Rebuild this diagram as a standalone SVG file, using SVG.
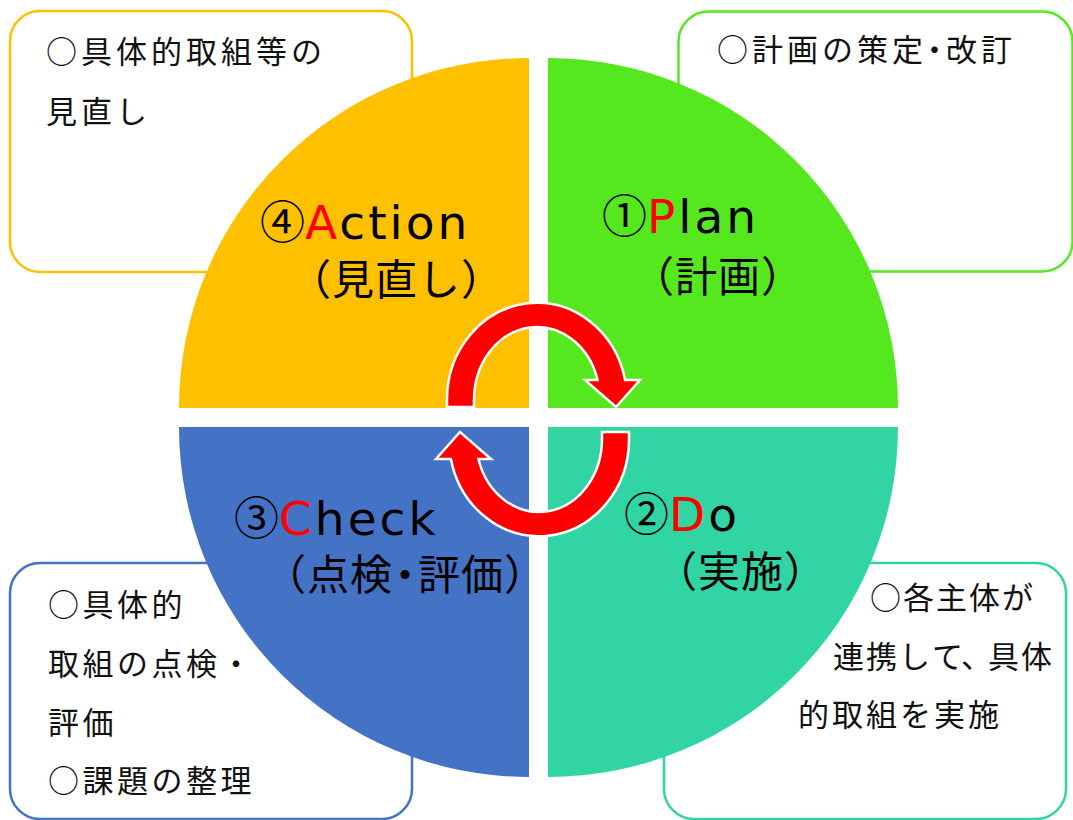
<svg xmlns="http://www.w3.org/2000/svg" width="1073" height="820" viewBox="0 0 1073 820">
<defs>
<style>
.box{fill:#fff;stroke-width:2.5}
.bt{font-family:"Noto Sans CJK JP","Noto Sans CJK SC",sans-serif;font-size:31px;fill:#111;letter-spacing:4px}
.l1{font-family:"DejaVu Sans","Noto Sans CJK JP",sans-serif;font-size:47px;fill:#000;letter-spacing:3px}
.num{font-family:"Noto Sans CJK JP",sans-serif;font-size:45px;letter-spacing:0}
.red{fill:#FF0000}
.l2{font-family:"Noto Sans CJK JP","Noto Sans CJK SC",sans-serif;font-size:42px;fill:#000;letter-spacing:1px}
.arrow{fill:#FF0000;stroke:#fff;stroke-width:2.5;stroke-linejoin:miter}
</style>
<path id="arc" d="M447,407 L447,400 A90,97 0 0 1 625.1,380 L640,380 L616,407 L585,380 L597.6,380 A63,73 0 0 0 474,400 L474,407 Z"/>
</defs>
<rect width="1073" height="820" fill="#fff"/>

<g id="box-action">
<rect class="box" x="10" y="11" width="402" height="261" rx="30" stroke="#FFC000"/>
<text class="bt" x="46" y="63">○具体的取組等の</text>
<text class="bt" x="46" y="123">見直し</text>
</g>
<g id="box-plan">
<rect class="box" x="678.5" y="11.5" width="394" height="260" rx="30" stroke="#55E81E"/>
<text class="bt" x="717" y="61">○計画の策<tspan style="letter-spacing:-4px">定・</tspan>改訂</text>
</g>
<g id="box-check">
<rect class="box" x="10" y="563" width="402" height="256" rx="30" stroke="#4472C4"/>
<text class="bt" x="48" y="616" style="letter-spacing:3.5px">○具体的</text>
<text class="bt" x="48" y="675" style="letter-spacing:3.5px">取組の点検・</text>
<text class="bt" x="48" y="734" style="letter-spacing:3.5px">評価</text>
<text class="bt" x="48" y="792" style="letter-spacing:3.5px">○課題の整理</text>
</g>
<g id="box-do">
<rect class="box" x="664" y="563" width="402" height="256" rx="30" stroke="#30D5A3"/>
<text class="bt" x="870" y="609" style="letter-spacing:2px">○各主体が</text>
<text class="bt" x="833" y="668" style="letter-spacing:2px">連携し<tspan style="letter-spacing:-2px">て</tspan><tspan style="letter-spacing:-4px">、</tspan>具体</text>
<text class="bt" x="798" y="726" style="letter-spacing:3px">的取組を実施</text>
</g>

<g id="node-action">
<path d="M529,408 L179,408 A350,350 0 0 1 529,58 Z" fill="#FFC000"/>
<text class="l1" x="260" y="239"><tspan class="num">④</tspan><tspan class="red">A</tspan>ction</text>
<text class="l2" x="289" y="295">（見直し）</text>
</g>
<g id="node-plan">
<path d="M548,408 L548,58 A350,350 0 0 1 898,408 Z" fill="#55E81E"/>
<text class="l1" x="602" y="233"><tspan class="num">①</tspan><tspan class="red">P</tspan>lan</text>
<text class="l2" x="632" y="292">（計画）</text>
</g>
<g id="node-check">
<path d="M529,427 L529,777 A350,350 0 0 1 179,427 Z" fill="#4472C4"/>
<text class="l1" x="234" y="535"><tspan class="num">③</tspan><tspan class="red">C</tspan>heck</text>
<text class="l2" x="264" y="590">（点<tspan style="letter-spacing:-8px">検・</tspan>評価）</text>
</g>
<g id="node-do">
<path d="M548,427 L898,427 A350,350 0 0 1 548,777 Z" fill="#30D5A3"/>
<text class="l1" x="624" y="531"><tspan class="num">②</tspan><tspan class="red">D</tspan>o</text>
<text class="l2" x="655" y="587">（実施）</text>
</g>

<g id="connectors">
<use href="#arc" class="arrow"/>
<use href="#arc" class="arrow" transform="rotate(180 538 419.5)"/>
</g>
</svg>
